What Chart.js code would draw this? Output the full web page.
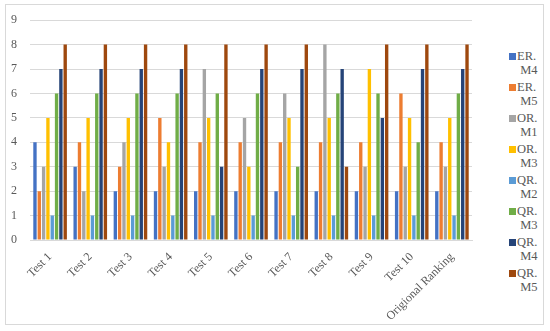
<!DOCTYPE html>
<html lang="en">
<head>
    <meta charset="UTF-8">
    <title>Ranking Chart</title>
    <script src="https://cdn.jsdelivr.net/npm/chart.js"></script>
    <style>
        body { margin: 0; background: #fff; }
        #frame {
            position: absolute; left: 5px; top: 4px; width: 539px; height: 321px;
            border: 1px solid #d9d9d9; box-sizing: border-box;
        }
        #wrap { position: absolute; left: 0; top: 0; width: 480px; height: 331px; }
        #legend {
            position: absolute; left: 509px; top: 50px; margin: 0; padding: 0;
            list-style: none; font-family: "Liberation Serif", serif; font-size: 12.5px;
            color: #595959; line-height: 13.5px;
        }
        #legend li { position: relative; padding-left: 8px; height: 31px; }
        #legend li span.box {
            position: absolute; left: 0; top: 3px; width: 7px; height: 7px;
        }
    </style>
</head>
<body>
    <div id="frame"></div>
    <div id="wrap"><canvas id="Chart1" width="480" height="331"></canvas></div>
    <ul id="legend"></ul>

    <script>
        const labels = ['Test 1', 'Test 2', 'Test 3', 'Test 4', 'Test 5', 'Test 6', 'Test 7', 'Test 8', 'Test 9', 'Test 10', 'Origional Ranking'];

        const erM4 = [4, 3, 2, 2, 2, 2, 2, 2, 2, 2, 2];
        const erM5 = [2, 4, 3, 5, 4, 4, 4, 4, 4, 6, 4];
        const orM1 = [3, 2, 4, 3, 7, 5, 6, 8, 3, 3, 3];
        const orM3 = [5, 5, 5, 4, 5, 3, 5, 5, 7, 5, 5];
        const qrM2 = [1, 1, 1, 1, 1, 1, 1, 1, 1, 1, 1];
        const qrM3 = [6, 6, 6, 6, 6, 6, 3, 6, 6, 4, 6];
        const qrM4 = [7, 7, 7, 7, 3, 7, 7, 7, 5, 7, 7];
        const qrM5 = [8, 8, 8, 8, 8, 8, 8, 3, 8, 8, 8];

        const seriesNames = ['ER. M4', 'ER. M5', 'OR. M1', 'OR. M3', 'QR. M2', 'QR. M3', 'QR. M4', 'QR. M5'];
        const seriesData = [erM4, erM5, orM1, orM3, qrM2, qrM3, qrM4, qrM5];
        const colors = ['#4472C4', '#ED7D31', '#A5A5A5', '#FFC000', '#5B9BD5', '#70AD47', '#264478', '#9E480E'];

        const font = { family: '"Liberation Serif", serif', size: 12 };

        const ctx = document.getElementById('Chart1').getContext('2d');
        const chart = new Chart(ctx, {
            type: 'bar',
            data: {
                labels: labels,
                datasets: seriesNames.map((name, i) => ({
                    label: name,
                    data: seriesData[i],
                    backgroundColor: colors[i],
                    categoryPercentage: 0.86,
                    barPercentage: 0.78
                }))
            },
            options: {
                responsive: false,
                animation: false,
                layout: { padding: { top: 10, left: 0, right: 8, bottom: 0 } },
                plugins: {
                    legend: { display: false },
                    tooltip: { enabled: false }
                },
                scales: {
                    x: {
                        grid: { display: false },
                        border: { color: '#d9d9d9' },
                        ticks: { color: '#595959', font: font, maxRotation: 45, minRotation: 45, padding: 2 },
                        afterFit: (s) => { s.height = 91; }
                    },
                    y: {
                        min: 0, max: 9,
                        grid: { color: '#d9d9d9', drawTicks: false },
                        border: { display: false },
                        ticks: { stepSize: 1, color: '#595959', font: font, padding: 13 },
                        afterFit: (s) => { s.width = 30; }
                    }
                }
            }
        });

        // legend with wrapped labels
        const ul = document.getElementById('legend');
        seriesNames.forEach((name, i) => {
            const parts = name.split(' ');
            const li = document.createElement('li');
            li.innerHTML = '<span class="box" style="background:' + colors[i] + '"></span>' +
                parts[0] + '<br>&nbsp;' + parts[1];
            ul.appendChild(li);
        });
    </script>
</body>
</html>
